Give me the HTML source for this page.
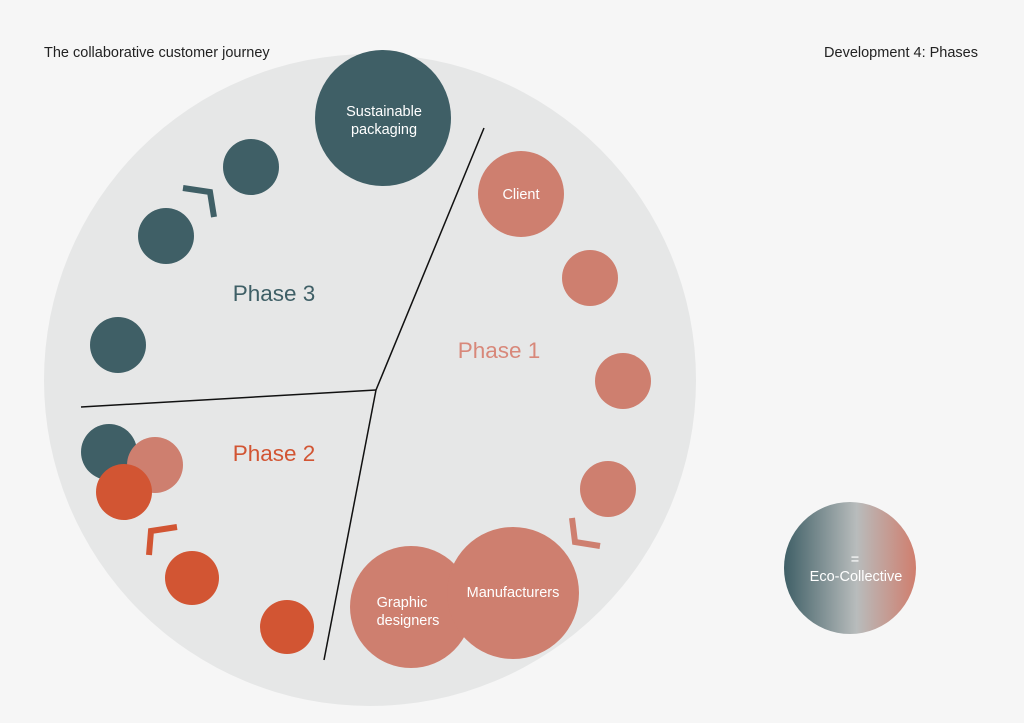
<!DOCTYPE html>
<html><head><meta charset="utf-8"><style>
html,body{margin:0;padding:0;background:#f6f6f6;}
svg{display:block;}
text{font-family:"Liberation Sans",sans-serif;}
</style></head><body>
<svg width="1024" height="723" viewBox="0 0 1024 723" xmlns="http://www.w3.org/2000/svg">
<defs>
<linearGradient id="g" x1="0" x2="1" y1="0" y2="0">
<stop offset="0" stop-color="#3f5f66"/>
<stop offset="0.55" stop-color="#b8bcbc"/>
<stop offset="1" stop-color="#d07e6e"/>
</linearGradient>
</defs>
<rect width="1024" height="723" fill="#f6f6f6"/>
<text x="44" y="57" font-size="14.5" fill="#222">The collaborative customer journey</text>
<text x="978" y="57" font-size="14.5" fill="#222" text-anchor="end">Development 4: Phases</text>
<circle cx="370" cy="380" r="326" fill="#e6e7e7"/>
<g stroke="#111" stroke-width="1.5" fill="none">
<line x1="376" y1="390" x2="484" y2="128"/>
<line x1="376" y1="390" x2="81" y2="407"/>
<line x1="376" y1="390" x2="324" y2="660"/>
</g>
<g fill="#3f5f66">
<circle cx="383" cy="118" r="68"/>
<circle cx="251" cy="167" r="28"/>
<circle cx="166" cy="236" r="28"/>
<circle cx="118" cy="345" r="28"/>
<circle cx="109" cy="452" r="28"/>
</g>
<g fill="#ce7f6f">
<circle cx="521" cy="194" r="43"/>
<circle cx="590" cy="278" r="28"/>
<circle cx="623" cy="381" r="28"/>
<circle cx="608" cy="489" r="28"/>
<circle cx="155" cy="465" r="28"/>
<circle cx="411" cy="607" r="61"/>
<circle cx="513" cy="593" r="66"/>
</g>
<g fill="#d25533">
<circle cx="124" cy="492" r="28"/>
<circle cx="192" cy="578" r="27"/>
<circle cx="287" cy="627" r="27"/>
</g>
<polyline points="183,188 210,192 214,217" fill="none" stroke="#3f5f66" stroke-width="6"/>
<polyline points="177,527 151,531 149,555" fill="none" stroke="#d25533" stroke-width="6"/>
<polyline points="572,518 575,542 600,546" fill="none" stroke="#ce7f6f" stroke-width="6"/>
<circle cx="850" cy="568" r="66" fill="url(#g)"/>
<g fill="#fff" font-size="14.5" text-anchor="middle">
<text x="384" y="116">Sustainable</text>
<text x="384" y="134">packaging</text>
<text x="521" y="199">Client</text>
<text x="513" y="597">Manufacturers</text>
<text x="402" y="607">Graphic</text>
<text x="408" y="625">designers</text>
<text x="855" y="564">=</text>
<text x="856" y="581">Eco-Collective</text>
</g>
<text x="274" y="301" font-size="22.5" fill="#3f5f66" text-anchor="middle">Phase 3</text>
<text x="499" y="358" font-size="22.5" fill="#d8887a" text-anchor="middle">Phase 1</text>
<text x="274" y="461" font-size="22.5" fill="#d25533" text-anchor="middle">Phase 2</text>
</svg>
</body></html>
